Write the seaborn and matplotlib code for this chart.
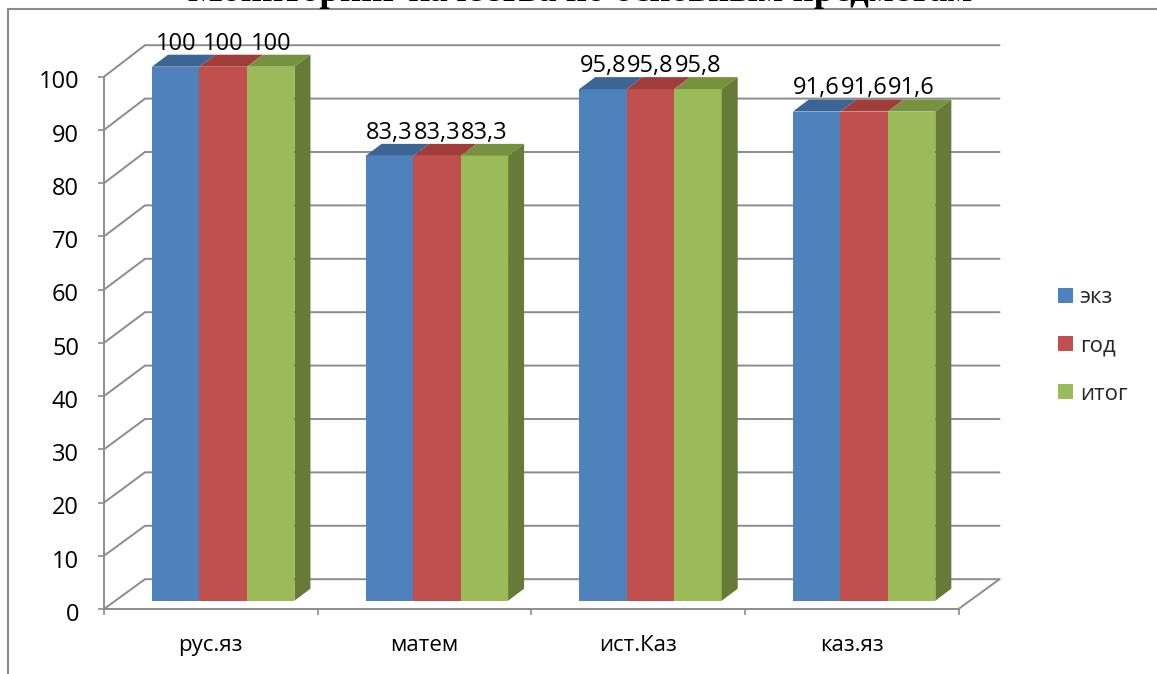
import pandas as pd
import seaborn as sns
import matplotlib.pyplot as plt
from matplotlib.lines import Line2D
from matplotlib.patches import Polygon
from matplotlib.transforms import ScaledTranslation

subjects = ['рус.яз', 'матем', 'ист.Каз', 'каз.яз']
series_names = ['экз', 'год', 'итог']
ekz = [100, 83.3, 95.8, 91.6]
god = [100, 83.3, 95.8, 91.6]
itog = [100, 83.3, 95.8, 91.6]
y_ticks = [0, 10, 20, 30, 40, 50, 60, 70, 80, 90, 100]
title = 'Мониторинг качества по основным предметам'

colors = ['#4F81BD', '#C0504D', '#9BBB59']
top_colors = ['#3B6594', '#A03C39', '#77923F']
side_color = '#667B37'
grid_color = '#8C8C8C'

W, H = 1157, 674


def px_box(left, right, top, bottom):
    # pixel box (from top of the picture) -> figure fractions
    return [left / W, 1 - bottom / H, (right - left) / W, (bottom - top) / H]


df = pd.DataFrame({
    'предмет': subjects * 3,
    'серия': [s for s in series_names for _ in subjects],
    'значение': ekz + god + itog,
})

sns.set_theme(style='white')
plt.rcParams['font.family'] = ['Open Sans', 'DejaVu Sans']

fig = plt.figure(figsize=(W / 100, H / 100), dpi=100)
fig.patch.set_facecolor('white')

# front wall with the ticks, bars live in their own axes a little deeper
ax = fig.add_axes(px_box(104, 958.5, 76.7, 609))
ax_bars = fig.add_axes(px_box(116.4, 970.9, 66.7, 600.7), zorder=2)
ax_bars.patch.set_visible(False)

sns.barplot(data=df, x='предмет', y='значение', hue='серия', palette=colors,
            saturation=1, width=0.667, gap=0, edgecolor='none', linewidth=0, ax=ax_bars)

x_lim = (-0.5, len(subjects) - 0.5)
ax.set_xlim(x_lim)
ax.set_ylim(0, 100)
ax.set_facecolor('none')

# back plane of the 3d box
depth_x = 41 / 213.6


def back_y(v):
    return v * 534 / 532.3 + 5.6


for v in y_ticks:
    ax.plot([x_lim[0], x_lim[0] + depth_x, x_lim[1] + depth_x],
            [v, back_y(v), back_y(v)], color=grid_color, lw=1.4, clip_on=False, zorder=1)
ax.plot([x_lim[1], x_lim[1] + depth_x], [0, back_y(0)], color=grid_color, lw=1.4, clip_on=False, zorder=1)

for side in ['top', 'right']:
    ax.spines[side].set_visible(False)
for side in ['left', 'bottom']:
    ax.spines[side].set_color(grid_color)
    ax.spines[side].set_linewidth(1.4)

ax.set_yticks(y_ticks)
ax.set_xticks([i - 0.5 for i in range(len(subjects) + 1)])
ax.set_xticklabels([])
ax.set_xticks(range(len(subjects)), labels=subjects, minor=True)
ax.tick_params(axis='both', which='major', length=4.5, width=1.2, color=grid_color,
               left=True, bottom=True)
ax.tick_params(axis='y', labelsize=17, pad=13.5, labelcolor='black')
ax.tick_params(axis='x', which='minor', length=0, labelsize=16, pad=19, labelcolor='black')
ax.grid(False)

# the digits sit a bit under their ticks in the original
down = ScaledTranslation(0, -2 / 72, fig.dpi_scale_trans)
for lab in ax.get_yticklabels():
    lab.set_transform(lab.get_transform() + down)

# 3d faces of the bars
bar_dx = 16 / 213.6
bar_dy = 12 / 5.34
for i, container in enumerate(ax_bars.containers):
    for bar in container:
        x0, x1 = bar.get_x(), bar.get_x() + bar.get_width()
        h = bar.get_height()
        ax_bars.add_patch(Polygon([(x0, h), (x1, h), (x1 + bar_dx, h + bar_dy), (x0 + bar_dx, h + bar_dy)],
                                  facecolor=top_colors[i], edgecolor='none', clip_on=False))
        if i == len(series_names) - 1:
            ax_bars.add_patch(Polygon([(x1, 0), (x1 + bar_dx, bar_dy), (x1 + bar_dx, h + bar_dy), (x1, h)],
                                      facecolor=side_color, edgecolor='none', clip_on=False))
    labels = [f'{b.get_height():g}'.replace('.', ',') for b in container]
    ax_bars.bar_label(container, labels=labels, padding=8, fontsize=17, color='black')

ax_bars.set_xlim(x_lim)
ax_bars.set_ylim(0, 100)
ax_bars.axis('off')

handles, names = ax_bars.get_legend_handles_labels()
ax_bars.legend(handles, names, loc='center left', bbox_to_anchor=(1058 / W, 1 - 346 / H),
               bbox_transform=fig.transFigure, frameon=False, fontsize=16,
               handlelength=0.68, handleheight=0.68, handletextpad=0.3,
               labelspacing=1.22, borderpad=0, borderaxespad=0)

# title is cut by the top edge in the original
fig.text(580 / W, 1 - 0.75 / H, title, ha='center', va='baseline', fontsize=26.6, fontweight='bold',
         family=['Liberation Serif', 'DejaVu Serif'], color='black')

# outer frame of the chart, right and bottom run off the picture
frame = dict(color='#8C8C8C', lw=1.5, transform=fig.transFigure)
fig.add_artist(Line2D([8 / W, 8 / W], [0, 1 - 8.7 / H], **frame))
fig.add_artist(Line2D([8 / W, 1], [1 - 8.7 / H, 1 - 8.7 / H], **frame))

fig.savefig('out.png', dpi=100)
